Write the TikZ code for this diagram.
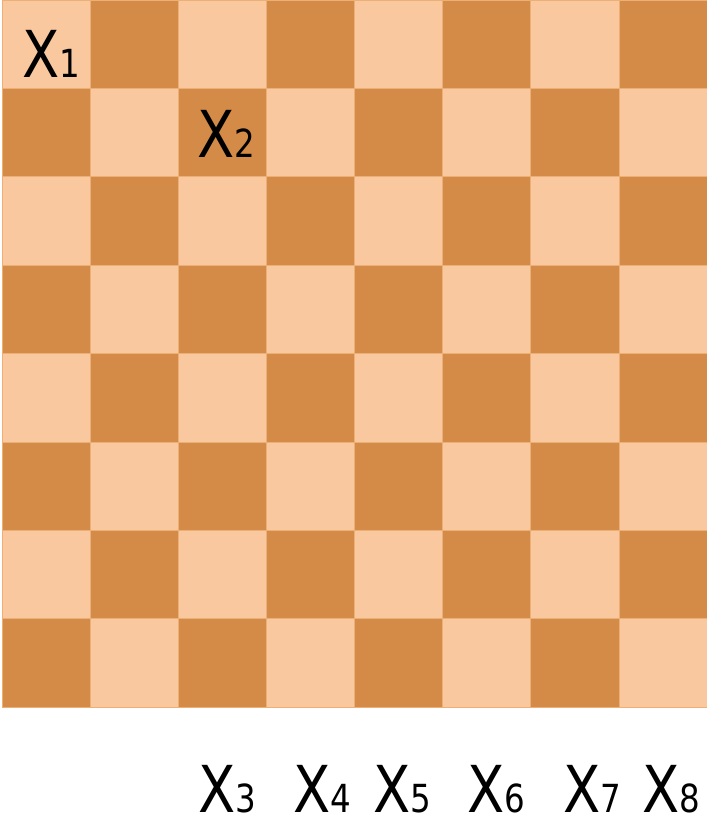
\documentclass[tikz,border=0pt]{standalone}
\usepackage{fontspec}
\setmainfont{DejaVu Sans}
\newfontfamily\labelfont[FakeStretch=0.84]{DejaVu Sans}
\definecolor{darksq}{RGB}{211,139,71}
\definecolor{lightsq}{RGB}{249,200,158}
\definecolor{seam}{RGB}{236,176,118}
\tikzset{
  varlabel/.style={anchor=base west, inner sep=0pt, font=\labelfont\fontsize{18.4}{18}\selectfont},
}
\newcommand{\idx}[1]{{\fontsize{11}{11}\selectfont #1}}
\begin{document}
\begin{tikzpicture}[x=0.01cm, y=-0.01cm]
\useasboundingbox (0,0) rectangle (707,817);

% Board: 8 x 8 squares, light one in the top left corner
\foreach \r in {0,...,7}
  \foreach \c in {0,...,7} {
    \pgfmathtruncatemacro{\parity}{mod(\r+\c,2)}
    \ifnum\parity=0
      \filldraw[fill=lightsq, draw=seam, line width=0.2pt] (2+88.125*\c, 88.375*\r) rectangle ++(88.125, 88.375);
    \else
      \filldraw[fill=darksq, draw=seam, line width=0.2pt] (2+88.125*\c, 88.375*\r) rectangle ++(88.125, 88.375);
    \fi
  }

% Labels on the board
\node[varlabel] (x1) at (22, 77) {X\idx{1}};
\node[varlabel] (x2) at (197, 157) {X\idx{2}};

% Labels under the board
\node[varlabel] (x3) at (198, 812) {X\idx{3}};
\node[varlabel] (x4) at (293, 812) {X\idx{4}};
\node[varlabel] (x5) at (373, 812) {X\idx{5}};
\node[varlabel] (x6) at (467, 812) {X\idx{6}};
\node[varlabel] (x7) at (563, 812) {X\idx{7}};
\node[varlabel] (x8) at (642, 812) {X\idx{8}};

\end{tikzpicture}
\end{document}
